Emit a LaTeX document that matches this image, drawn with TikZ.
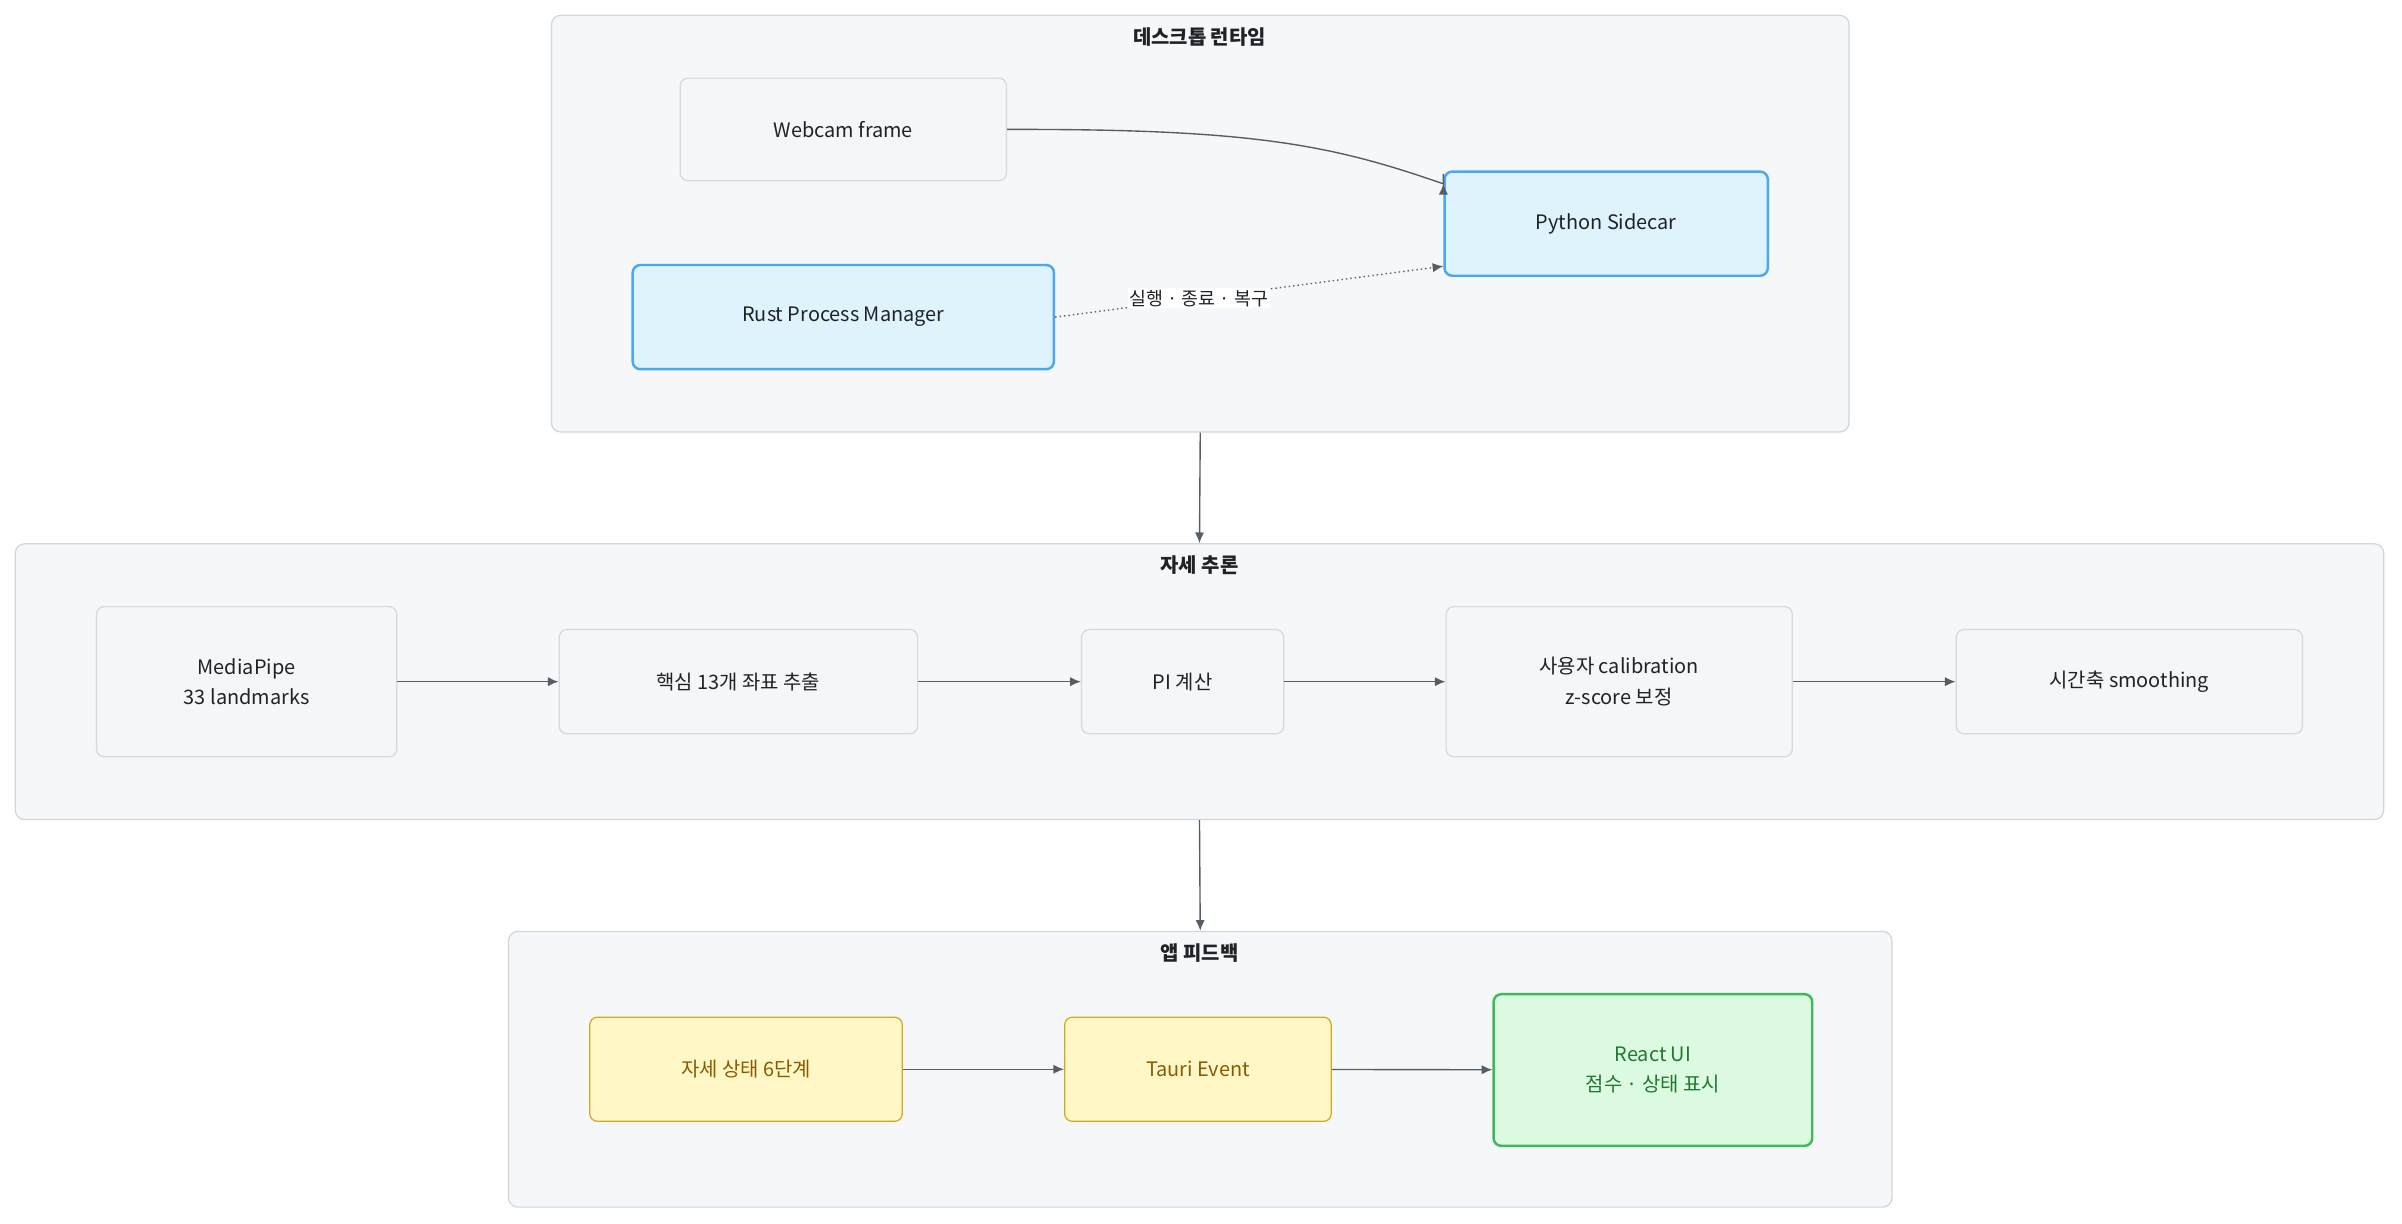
\documentclass[tikz,border=0pt]{standalone}
\usepackage{fontspec}
\setmainfont{Noto Sans CJK KR}
\usetikzlibrary{arrows.meta}
\definecolor{clf}{HTML}{F5F7F9}\definecolor{cls}{HTML}{CFD6DD}
\definecolor{nf}{HTML}{F5F6F7}\definecolor{ns}{HTML}{D5D8DC}
\definecolor{bf}{HTML}{DFF3FD}\definecolor{bs}{HTML}{4AA8F0}
\definecolor{yf}{HTML}{FFF7C5}\definecolor{ys}{HTML}{D4A820}\definecolor{yt}{HTML}{8A5A00}
\definecolor{gf}{HTML}{DCF9E1}\definecolor{gs}{HTML}{3DBA5A}\definecolor{gt}{HTML}{1F7A2F}
\definecolor{ec}{HTML}{555D66}\definecolor{tx}{HTML}{1F2328}
\tikzset{
 cl/.style={draw=cls,fill=clf,rounded corners=6pt,line width=0.8pt,inner sep=0pt},
 ttl/.style={font=\fontsize{13}{15}\selectfont\bfseries,text=tx},
 nd/.style={draw=ns,fill=nf,rounded corners=5pt,line width=0.8pt,align=center,font=\fontsize{13}{20}\selectfont,text=tx,inner sep=0pt},
 bl/.style={nd,draw=bs,fill=bf,line width=1.6pt},
 yl/.style={nd,draw=ys,fill=yf,text=yt},
 gr/.style={nd,draw=gs,fill=gf,text=gt,line width=1.6pt},
 ar/.style={draw=ec,line width=0.9pt,-{Latex[length=7pt,width=6pt]}},
}
\begin{document}
\begin{tikzpicture}[x=1pt,y=-1pt]
\useasboundingbox (0,0) rectangle (1568,799);
\node[cl,minimum width=847,minimum height=272] (c1) at (783.5,146) {};
\node[cl,minimum width=1546,minimum height=180] (c2) at (783,445) {};
\node[cl,minimum width=903,minimum height=180] (c3) at (783.5,698) {};
\node[ttl] (t1) at (783,24) {데스크톱 런타임};
\node[ttl] (t2) at (783,369) {자세 추론};
\node[ttl] (t3) at (783,622) {앱 피드백};
\node[nd,minimum width=213,minimum height=67] (web) at (550.5,84.5) {Webcam frame};
\node[bl,minimum width=211,minimum height=68] (py) at (1048.5,146) {Python Sidecar};
\node[bl,minimum width=275,minimum height=68] (rust) at (550.5,207) {Rust Process Manager};
\node[nd,minimum width=196,minimum height=98] (mp) at (161,445) {MediaPipe\\33 landmarks};
\node[nd,minimum width=234,minimum height=68] (kp) at (482,445) {핵심 13개 좌표 추출};
\node[nd,minimum width=132,minimum height=68] (pi) at (772,445) {PI 계산};
\node[nd,minimum width=226,minimum height=98] (cal) at (1057,445) {사용자 calibration\\z-score 보정};
\node[nd,minimum width=226,minimum height=68] (sm) at (1390,445) {시간축 smoothing};
\node[yl,minimum width=204,minimum height=68] (st) at (487,698) {자세 상태 6단계};
\node[yl,minimum width=174,minimum height=68] (ta) at (782,698) {Tauri Event};
\node[gr,minimum width=208,minimum height=99] (re) at (1079,698.5) {React UI\\점수 · 상태 표시};
\draw[ar] (web.east) .. controls (820,84) and (870,95) .. (py.north west |- 0,120) -- (py.west |- 0,120);
\draw[ar,dotted] (rust.east) -- node[pos=0.37,fill=white,inner sep=1pt,font=\fontsize{12}{14}\selectfont,text=tx]{실행 · 종료 · 복구} ([yshift=7pt]py.south west);
\draw[ar] (c1.south) -- (c2.north);
\draw[ar] (c2.south) -- (c3.north);
\draw[ar] (mp) -- (kp);
\draw[ar] (kp) -- (pi);
\draw[ar] (pi) -- (cal);
\draw[ar] (cal) -- (sm);
\draw[ar] (st) -- (ta);
\draw[ar] (ta) -- (re);
\end{tikzpicture}
\end{document}
